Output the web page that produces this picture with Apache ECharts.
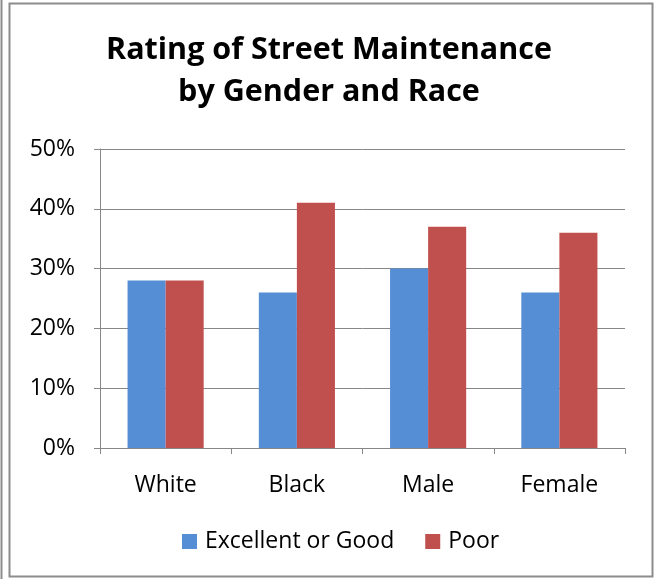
<!DOCTYPE html>
<html>
<head>
<meta charset="utf-8">
<script src="https://cdn.jsdelivr.net/npm/echarts@6/dist/echarts.min.js"></script>
<style>
  html, body { margin: 0; padding: 0; background: #fff; }
  #chart { width: 656px; height: 579px; }
</style>
</head>
<body>
<div id="chart"></div>
<script>
const categories = ["White", "Black", "Male", "Female"];
const excellentOrGood = [28, 26, 30, 26];
const poor = [28, 41, 37, 36];
const seriesNames = ["Excellent or Good", "Poor"];

const font = "'Open Sans', sans-serif";
const chart = echarts.init(document.getElementById("chart"));

chart.setOption({
  animation: false,
  title: {
    text: "Rating of Street Maintenance\nby Gender and Race",
    left: 329,
    textAlign: "center",
    top: 29,
    padding: 0,
    textStyle: { fontFamily: font, fontSize: 30.5, fontWeight: "bold", color: "#000", lineHeight: 42 },
  },
  legend: {
    data: seriesNames,
    top: 530,
    left: 182,
    padding: 0,
    itemWidth: 15,
    itemHeight: 15,
    itemGap: 31,
    icon: "rect",
    textStyle: { fontFamily: font, fontSize: 23, color: "#000", padding: [0, 0, 0, 3] },
  },
  grid: { left: 100, right: 31, top: 149, bottom: 131 },
  xAxis: {
    type: "category",
    data: categories,
    axisLine: { lineStyle: { color: "#878787" } },
    axisTick: { show: true, length: 6, lineStyle: { color: "#878787" } },
    axisLabel: { fontFamily: font, fontSize: 23, color: "#000", margin: 26 },
  },
  yAxis: {
    type: "value",
    min: 0,
    max: 50,
    interval: 10,
    axisLine: { show: true, lineStyle: { color: "#878787" } },
    axisTick: { show: true, length: 6, lineStyle: { color: "#878787" } },
    axisLabel: { fontFamily: font, fontSize: 23, color: "#000", margin: 25, formatter: "{value}%" },
    splitLine: { lineStyle: { color: "#878787" } },
  },
  series: [
    {
      name: seriesNames[0],
      type: "bar",
      data: excellentOrGood,
      barGap: "0%",
      barCategoryGap: "42%",
      itemStyle: { color: "#558ED5" },
    },
    {
      name: seriesNames[1],
      type: "bar",
      data: poor,
      itemStyle: { color: "#C0504D" },
    },
  ],
  graphic: [
    { type: "line", shape: { x1: 1.5, y1: 0, x2: 1.5, y2: 579 }, style: { stroke: "#8c8c8c", lineWidth: 2 } },
    { type: "rect", shape: { x: 9.5, y: 3.5, width: 643, height: 573 }, style: { fill: null, stroke: "#8c8c8c", lineWidth: 2 } },
  ],
});
</script>
</body>
</html>
